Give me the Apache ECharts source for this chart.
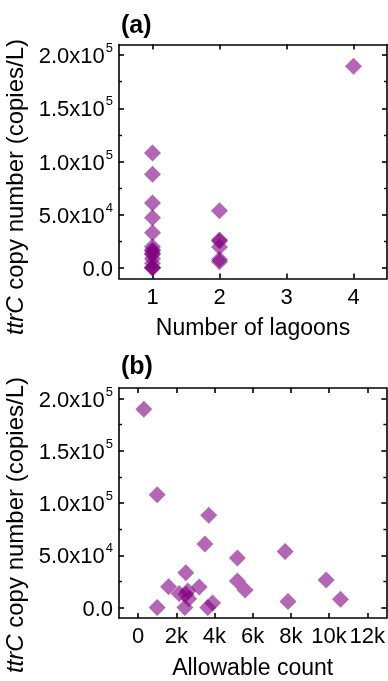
<!DOCTYPE html>
<html>
<head>
<meta charset="utf-8">
<script src="https://cdn.jsdelivr.net/npm/echarts@6/dist/echarts.min.js"></script>
<style>
html,body{margin:0;padding:0;background:#fff;}
#chart{width:388px;height:681px;}
</style>
</head>
<body>
<div id="chart"></div>
<script>
// Panel (a): number of lagoons vs ttrC copy number
const lagoons = [1,1,1,1,1,1,1,1,1,1,1,1,1,1,1, 2,2,2,2,2,2, 4];
const copiesA = [108000,88000,61000,47000,33000,19900,16800,15800,13500,12600,8500,4400,0,0,0,
                 53700,26300,25300,19600,7900,5700, 189600];
// Panel (b): allowable count vs ttrC copy number
const allowable = [300,1000,3700,3500,5200,7700,2500,1600,3200,2150,2600,2500,2650,5200,5600,9850,10600,1000,2450,3650,3900,7850];
const copiesB   = [189600,108000,88400,60700,47400,53700,33200,19900,19600,13500,15800,12600,8500,25300,16800,26300,7900,0,0,0,4400,5700];

const yTickValues = [0,50000,100000,150000,200000];
const yTickLabels = ['0.0','5.0x10^4','1.0x10^5','1.5x10^5','2.0x10^5'];
const yMinorValues = [25000,75000,125000,175000];
const xTickValuesA = [1,2,3,4];
const xTickLabelsA = ['1','2','3','4'];
const xTickValuesB = [0,2000,4000,6000,8000,10000,12000];
const xTickLabelsB = ['0','2k','4k','6k','8k','10k','12k'];

const FONT = '"Liberation Sans", Arial, sans-serif';
const chart = echarts.init(document.getElementById('chart'), null, {renderer:'canvas'});

function yFmt(v){
  const i = yTickValues.indexOf(v);
  if (i < 0) return '';
  return yTickLabels[i].replace(/\^(\d+)/, '{s|$1}').replace(/^([^{]+)/, '{b|$1}');
}
const yRich = {
  b:{fontSize:22, fontFamily:FONT, color:'#000', lineHeight:26, verticalAlign:'bottom'},
  s:{fontSize:13, fontFamily:FONT, color:'#000', lineHeight:26, verticalAlign:'top', padding:[0,0,0,1]}
};
const lineStyle = {color:'#000', width:1.6};

function xAxes(gi, min, max, vals, labels, name){
  return [
    {gridIndex:gi, type:'value', position:'bottom', offset:0, min, max,
     axisLine:{show:true, onZero:false, lineStyle},
     axisTick:{show:true, inside:true, length:5, customValues:vals, lineStyle:{color:'#000', width:1.6}},
     axisLabel:{show:true, customValues:vals, margin:8, color:'#000', fontSize:22, fontFamily:FONT,
       formatter:(v)=>{const i=vals.indexOf(v); return i<0?'':labels[i];}},
     splitLine:{show:false},
     name, nameLocation:'middle', nameGap:39,
     nameTextStyle:{color:'#000', fontSize:23, fontFamily:FONT}},
    {gridIndex:gi, type:'value', position:'top', offset:0, min, max,
     axisLine:{show:true, onZero:false, lineStyle},
     axisTick:{show:true, inside:true, length:5, customValues:vals, lineStyle:{color:'#000', width:1.6}},
     axisLabel:{show:false}, splitLine:{show:false}}
  ];
}
function yAxes(gi){
  const base = {gridIndex:gi, type:'value', min:-10000, max:210000, offset:0, splitLine:{show:false}};
  return [
    Object.assign({}, base, {position:'left',
      axisLine:{show:true, onZero:false, lineStyle},
      axisTick:{show:true, inside:true, length:5, customValues:yTickValues, lineStyle:{color:'#000', width:1.6}},
      axisLabel:{show:true, customValues:yTickValues, margin:6, formatter:yFmt, rich:yRich}}),
    Object.assign({}, base, {position:'right',
      axisLine:{show:true, onZero:false, lineStyle},
      axisTick:{show:true, inside:true, length:5, customValues:yTickValues, lineStyle:{color:'#000', width:1.6}},
      axisLabel:{show:false}}),
    Object.assign({}, base, {position:'left',
      axisLine:{show:false, onZero:false},
      axisTick:{show:true, inside:true, length:3, customValues:yMinorValues, lineStyle:{color:'#000', width:1.4}},
      axisLabel:{show:false}}),
    Object.assign({}, base, {position:'right',
      axisLine:{show:false, onZero:false},
      axisTick:{show:true, inside:true, length:3, customValues:yMinorValues, lineStyle:{color:'#000', width:1.4}},
      axisLabel:{show:false}})
  ];
}

const itemStyle = {color:'#800080', opacity:0.6};
const yName = '{i|ttrC} copy number (copies/L)';
const yNameRich = {i:{fontStyle:'italic', fontSize:24, fontFamily:FONT, fill:'#000'}};

chart.setOption({
  animation:false,
  backgroundColor:'#fff',
  grid:[
    {left:119, top:44.5, width:268, height:234},
    {left:119, top:388, width:268, height:233}
  ],
  xAxis:[].concat(
    xAxes(0, 0.5, 4.5, xTickValuesA, xTickLabelsA, 'Number of lagoons'),
    xAxes(1, -1000, 13000, xTickValuesB, xTickLabelsB, 'Allowable count')
  ),
  yAxis:[].concat(yAxes(0), yAxes(1)),
  series:[
    {type:'scatter', xAxisIndex:0, yAxisIndex:0, symbol:'diamond', symbolSize:17,
     itemStyle, data: lagoons.map((x,i)=>[x, copiesA[i]])},
    {type:'scatter', xAxisIndex:2, yAxisIndex:4, symbol:'diamond', symbolSize:17,
     itemStyle, data: allowable.map((x,i)=>[x, copiesB[i]])}
  ],
  graphic:[
    {type:'text', left:121, top:14, style:{text:'(a)', font:'bold 25px '+FONT, fill:'#000'}},
    {type:'text', left:121, top:355, style:{text:'(b)', font:'bold 25px '+FONT, fill:'#000'}},
    {type:'text', x:16, y:187, rotation:Math.PI/2,
     style:{text:yName, rich:yNameRich, font:'24px '+FONT, fill:'#000', align:'center', verticalAlign:'middle'}},
    {type:'text', x:16, y:525, rotation:Math.PI/2,
     style:{text:yName, rich:yNameRich, font:'24px '+FONT, fill:'#000', align:'center', verticalAlign:'middle'}}
  ]
});
</script>
</body>
</html>
